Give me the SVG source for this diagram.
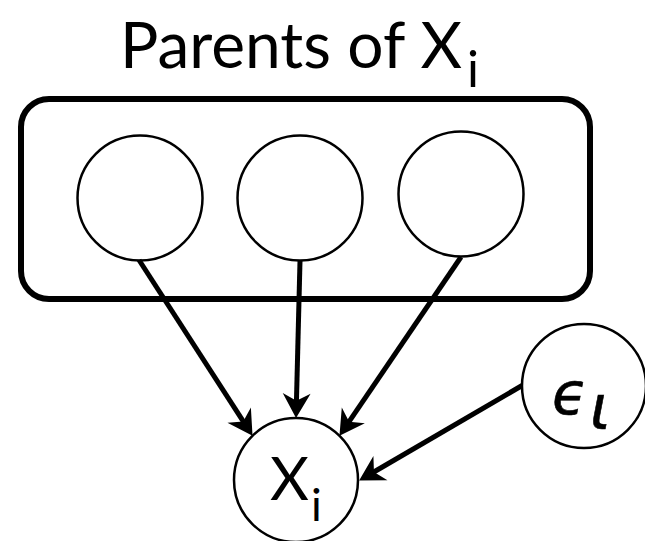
<svg xmlns="http://www.w3.org/2000/svg" width="645" height="541" viewBox="0 0 645 541">
  <style>
    .node { fill: #fff; stroke: #000; stroke-width: 2.5; }
    .frame { fill: none; stroke: #000; stroke-width: 6; }
    .edge { stroke: #000; stroke-width: 5; fill: none; marker-end: url(#arrow); }
    .lbl { font-family: "Lato", "Liberation Sans", sans-serif; fill: #000; }
    .math { font-family: "DejaVu Sans", sans-serif; font-style: italic; fill: #000; stroke: #000; stroke-width: 0.6; }
  </style>
  <defs>
    <marker id="arrow" markerUnits="userSpaceOnUse" markerWidth="30" markerHeight="30" viewBox="0 -14 24 28" refX="9" refY="0" orient="auto">
      <path d="M0,-13 L23,0 L0,13 L7,0 Z" fill="#000"/>
    </marker>
  </defs>
  <rect width="645" height="541" fill="#fff"/>
  <g id="title">
    <text class="lbl" x="120" y="68" font-size="64">Parents of X<tspan font-size="50" dx="5" dy="19">i</tspan></text>
  </g>
  <g id="parents-frame">
    <rect class="frame" x="21" y="99" width="569" height="200" rx="28" ry="28"/>
  </g>
  <g id="parent1">
    <circle class="node" cx="140" cy="198" r="62.5"/>
  </g>
  <g id="parent2">
    <circle class="node" cx="300" cy="198" r="62.5"/>
  </g>
  <g id="parent3">
    <circle class="node" cx="461" cy="194" r="62.5"/>
  </g>
  <g id="connectors">
    <line class="edge" x1="139" y1="260" x2="244.4" y2="423.2"/>
    <line class="edge" x1="300" y1="261" x2="296.4" y2="403"/>
    <line class="edge" x1="461" y1="257" x2="347.9" y2="423.4"/>
    <line class="edge" x1="523" y1="385" x2="372.1" y2="473"/>
  </g>
  <g id="xi">
    <circle class="node" cx="296" cy="480" r="62"/>
    <text class="lbl" x="270" y="500" font-size="60">X<tspan font-size="45" dx="2" dy="21">i</tspan></text>
  </g>
  <g id="epsilon">
    <circle class="node" cx="584" cy="386" r="62"/>
    <text class="math" x="552" y="414" font-size="58">ϵ<tspan font-size="62" dx="2" dy="15">ι</tspan></text>
  </g>
</svg>
